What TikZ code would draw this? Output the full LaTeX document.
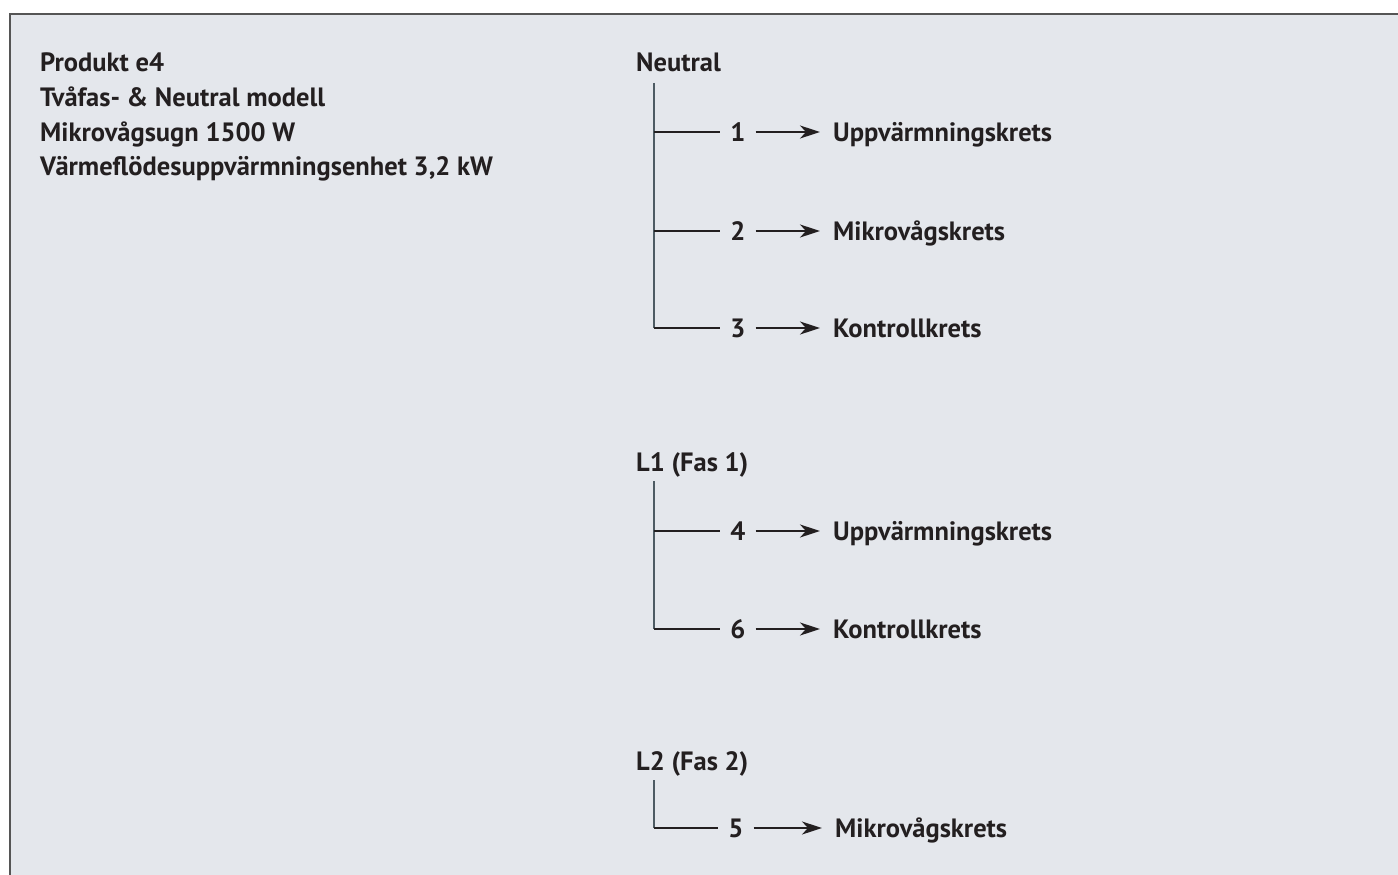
\documentclass[tikz,border=0pt]{standalone}
\usepackage{fontspec}
\setmainfont{PT Sans}
\usetikzlibrary{arrows.meta}
\definecolor{bgc}{HTML}{E4E7EC}
\definecolor{txt}{HTML}{231F20}
\definecolor{vcol}{HTML}{4D5B63}
\definecolor{frame}{HTML}{555555}
\tikzset{
  every node/.style={font=\fontsize{26.5}{30}\selectfont\bfseries, text=txt},
  title/.style={anchor=base west, inner sep=0pt},
  head/.style={anchor=base west, inner sep=0pt},
  num/.style={anchor=base, inner xsep=10pt, inner ysep=0pt},
  lab/.style={anchor=base west, inner xsep=13pt, inner ysep=0pt},
  vline/.style={draw=vcol, line width=2.6pt},
  hline/.style={draw=txt, line width=2pt},
  arr/.style={draw=txt, line width=2pt, -{Stealth[length=20pt, width=13pt, inset=6pt]}},
}
\begin{document}
\begin{tikzpicture}[x=1pt, y=-1pt]
\useasboundingbox (0,0) rectangle (1398,875);
\fill[white] (0,0) rectangle (1398,875);
\fill[bgc] (10,14) rectangle (1398,875);
\draw[frame, line width=2pt] (10,875) -- (10,14) -- (1398,14);
% title block
\node[title] (t1) at (40,72) {Produkt e4};
\node[title] (t2) at (40,106.5) {Tvåfas- \& Neutral modell};
\node[title] (t3) at (40,141) {Mikrovågsugn 1500 W};
\node[title] (t4) at (40,175.5) {Värmeflödesuppvärmningsenhet 3,2 kW};
% Neutral
\node[head] (hN) at (636,71) {Neutral};
\coordinate (topN) at (654,83);
\coordinate (b1) at (654,132);
\coordinate (b2) at (654,231);
\coordinate (b3) at (654,328);
\node[num] (n1) at (738,141) {1};
\node[num] (n2) at (738,240) {2};
\node[num] (n3) at (738,337) {3};
\node[lab] (l1) at (820,141) {Uppvärmningskrets};
\node[lab] (l2) at (820,240) {Mikrovågskrets};
\node[lab] (l3) at (820,337) {Kontrollkrets};
\draw[vline] (topN) -- (b3);
\draw[hline] (b1) -- (b1 -| n1.west);
\draw[hline] (b2) -- (b2 -| n2.west);
\draw[hline] (b3) -- (b3 -| n3.west);
\draw[arr] (b1 -| n1.east) -- (b1 -| l1.west);
\draw[arr] (b2 -| n2.east) -- (b2 -| l2.west);
\draw[arr] (b3 -| n3.east) -- (b3 -| l3.west);
% L1
\node[head] (hL1) at (636,471) {L1 (Fas 1)};
\coordinate (topL1) at (654,481);
\coordinate (b4) at (654,531);
\coordinate (b6) at (654,629);
\node[num] (n4) at (738,540) {4};
\node[num] (n6) at (738,638) {6};
\node[lab] (l4) at (820,540) {Uppvärmningskrets};
\node[lab] (l6) at (820,638) {Kontrollkrets};
\draw[vline] (topL1) -- (b6);
\draw[hline] (b4) -- (b4 -| n4.west);
\draw[hline] (b6) -- (b6 -| n6.west);
\draw[arr] (b4 -| n4.east) -- (b4 -| l4.west);
\draw[arr] (b6 -| n6.east) -- (b6 -| l6.west);
% L2
\node[head] (hL2) at (636,770) {L2 (Fas 2)};
\coordinate (topL2) at (654,780);
\coordinate (b5) at (654,828);
\node[num] (n5) at (736,837) {5};
\node[lab] (l5) at (822,837) {Mikrovågskrets};
\draw[vline] (topL2) -- (b5);
\draw[hline] (b5) -- (b5 -| n5.west);
\draw[arr] (b5 -| n5.east) -- (b5 -| l5.west);
\end{tikzpicture}
\end{document}
